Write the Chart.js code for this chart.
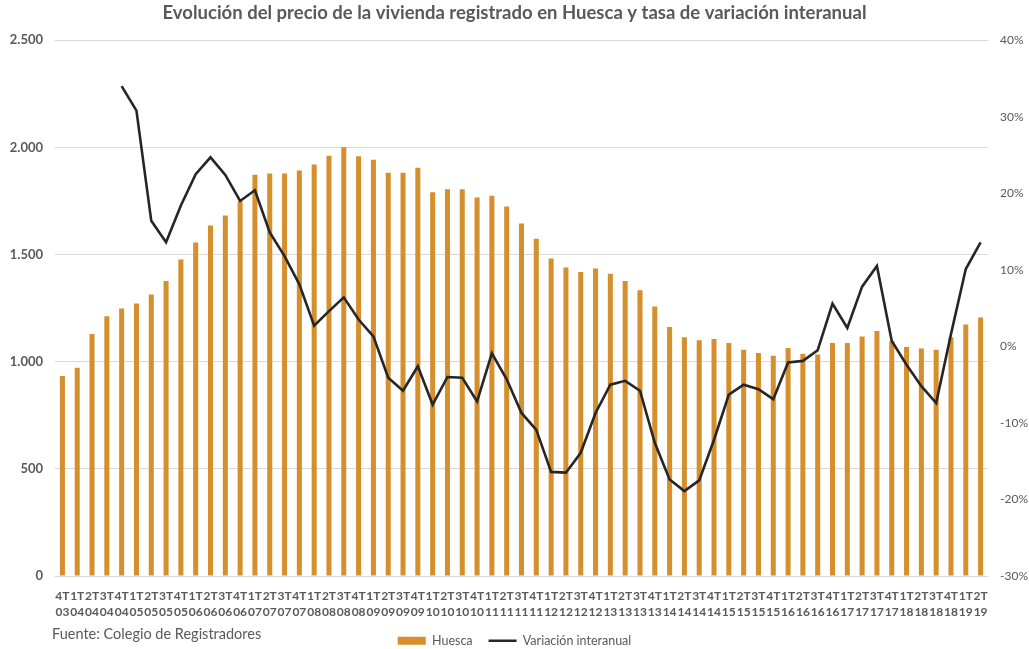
<!DOCTYPE html>
<html lang="es">
<head>
<meta charset="utf-8">
<title>Precio vivienda Huesca</title>
<script src="https://cdn.jsdelivr.net/npm/chart.js@4/dist/chart.umd.min.js"></script>
<style>
    html, body { margin: 0; padding: 0; background: #fff; }
    #wrap { position: relative; width: 1029px; height: 649px; }
    #fuente {
        position: absolute; left: 52px; top: 625px;
        font: 14.5px Lato, "Open Sans", sans-serif; color: #595959;
    }
</style>
</head>
<body>
<div id="wrap">
    <canvas id="precioChart"></canvas>
    <div id="fuente">Fuente: Colegio de Registradores</div>
</div>
<script>
const trimestres = [
    "4T03",
    "1T04", "2T04", "3T04", "4T04",
    "1T05", "2T05", "3T05", "4T05",
    "1T06", "2T06", "3T06", "4T06",
    "1T07", "2T07", "3T07", "4T07",
    "1T08", "2T08", "3T08", "4T08",
    "1T09", "2T09", "3T09", "4T09",
    "1T10", "2T10", "3T10", "4T10",
    "1T11", "2T11", "3T11", "4T11",
    "1T12", "2T12", "3T12", "4T12",
    "1T13", "2T13", "3T13", "4T13",
    "1T14", "2T14", "3T14", "4T14",
    "1T15", "2T15", "3T15", "4T15",
    "1T16", "2T16", "3T16", "4T16",
    "1T17", "2T17", "3T17", "4T17",
    "1T18", "2T18", "3T18", "4T18",
    "1T19", "2T19"
];

// precio medio (€/m2)
const precioHuesca = [
    933, 972, 1129, 1212, 1248, 1271, 1313, 1377, 1477, 1556,
    1635, 1682, 1749, 1872, 1878, 1878, 1892, 1920, 1961, 2000,
    1958, 1942, 1882, 1882, 1905, 1790, 1804, 1804, 1766, 1774,
    1724, 1645, 1573, 1481, 1439, 1419, 1435, 1410, 1377, 1333,
    1257, 1162, 1114, 1100, 1106, 1087, 1056, 1041, 1028, 1064,
    1037, 1034, 1087, 1087, 1117, 1143, 1095, 1069, 1061, 1056,
    1114, 1173, 1206
];

// variación interanual en %
const variacion = [
    null, null, null, null,
    34.0, 30.8, 16.4, 13.6, 18.4, 22.5, 24.7, 22.4, 19.0, 20.4,
    14.9, 11.8, 8.1, 2.7, 4.6, 6.4, 3.5, 1.3, -4.1, -5.8,
    -2.6, -7.6, -4.0, -4.1, -7.2, -0.9, -4.3, -8.7, -10.9, -16.4,
    -16.5, -13.9, -8.7, -5.0, -4.5, -5.8, -12.6, -17.4, -18.9, -17.5,
    -12.2, -6.3, -5.0, -5.6, -6.9, -2.1, -1.9, -0.5, 5.6, 2.4,
    7.8, 10.5, 0.7, -2.4, -5.2, -7.4, 1.6, 10.1, 13.6
];

const FONT = "Lato, 'Open Sans', sans-serif";
const GRIS = "#595959";

// 2500 -> "2.500"
const miles = (v) => String(v).replace(/\B(?=(\d{3})+(?!\d))/g, ".");

const ctx = document.getElementById("precioChart");

new Chart(ctx, {
    data: {
        labels: trimestres.map(t => [t.slice(0, 2), t.slice(2)]),
        datasets: [{
            type: "bar",
            label: "Huesca",
            data: precioHuesca,
            backgroundColor: "#D68F2D",
            barPercentage: 0.34,
            categoryPercentage: 1.0,
            yAxisID: "y",
            pointStyle: "rect",
            order: 2
        }, {
            type: "line",
            label: "Variación interanual",
            data: variacion,
            borderColor: "#262626",
            backgroundColor: "#262626",
            borderWidth: 2.6,
            pointRadius: 0,
            tension: 0,
            yAxisID: "y1",
            pointStyle: "line",
            order: 1
        }]
    },
    options: {
        responsive: true,
        maintainAspectRatio: false,
        animation: false,
        layout: {padding: {left: 0, right: 0, top: 0, bottom: -8}},
        plugins: {
            title: {
                display: true,
                text: "Evolución del precio de la vivienda registrado en Huesca y tasa de variación interanual",
                color: GRIS,
                font: {family: FONT, size: 18.5, weight: "bold"},
                padding: {top: 2, bottom: 16}
            },
            legend: {
                position: "bottom",
                labels: {
                    usePointStyle: true,
                    pointStyleWidth: 28,
                    boxHeight: 8,
                    color: GRIS,
                    font: {family: FONT, size: 12.5},
                    padding: 16,
                    sort: (a, b) => a.datasetIndex - b.datasetIndex
                }
            },
            tooltip: {enabled: false}
        },
        scales: {
            x: {
                grid: {display: false},
                border: {display: false},
                ticks: {
                    autoSkip: false,
                    maxRotation: 0,
                    minRotation: 0,
                    color: GRIS,
                    padding: 4,
                    font: {family: FONT, size: 12, weight: "bold", lineHeight: 1.35}
                },
                afterFit: (scale) => { scale.height = 42.5; }
            },
            y: {
                position: "left",
                min: 0,
                max: 2500,
                ticks: {
                    stepSize: 500,
                    color: GRIS,
                    padding: 12,
                    font: {family: FONT, size: 13, weight: "bold"},
                    callback: (v) => miles(v)
                },
                grid: {color: "#d9d9d9", lineWidth: 1, drawTicks: false},
                border: {display: false},
                afterFit: (scale) => { scale.width = 55; }
            },
            y1: {
                position: "right",
                min: -30,
                max: 40,
                ticks: {
                    stepSize: 10,
                    color: GRIS,
                    padding: 12,
                    font: {family: FONT, size: 12},
                    callback: (v) => v + "%"
                },
                grid: {display: false, drawTicks: false},
                border: {display: false},
                afterFit: (scale) => { scale.width = 41; }
            }
        }
    }
});
</script>
</body>
</html>
